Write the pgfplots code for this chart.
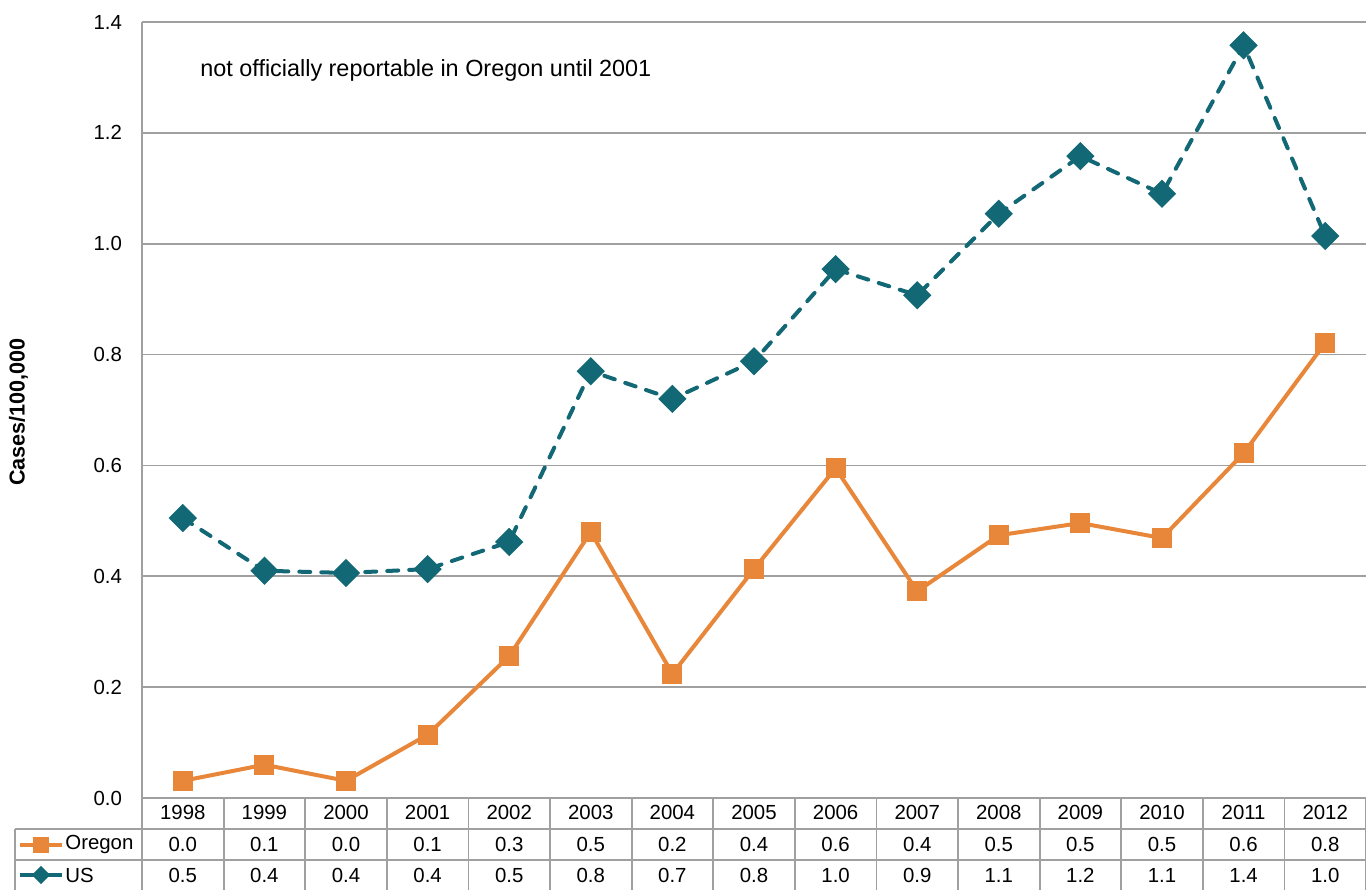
\documentclass[border=0pt]{standalone}
\usepackage{pgfplots}
\pgfplotsset{compat=1.18}
\usepackage{fontspec}
\setmainfont{Liberation Sans}
\usetikzlibrary{calc}
\definecolor{teal1}{HTML}{136876}
\definecolor{orng}{HTML}{E8873A}
\definecolor{gridg}{HTML}{A0A0A0}
\begin{document}
\begin{tikzpicture}
\begin{axis}[
  name=ax,
  scale only axis,
  width=612pt, height=388pt,
  xmin=0, xmax=15, ymin=0, ymax=1.4,
  clip=false,
  axis line style={gridg, line width=0.9pt},
  axis x line*=bottom, axis y line*=left,
  ytick={0,0.2,...,1.4},
  /pgf/number format/fixed, /pgf/number format/fixed zerofill, /pgf/number format/precision=1,
  /pgf/number format/assume math mode=true,
  ymajorgrids, grid style={gridg, line width=0.9pt},
  major tick length=0pt,
  xtick={0.5,1.5,...,14.5},
  xticklabels={1998,1999,2000,2001,2002,2003,2004,2005,2006,2007,2008,2009,2010,2011,2012},
  tick label style={font=\fontsize{10.2}{12}\selectfont},
  xticklabel style={yshift=0pt},
  yticklabel style={xshift=-6.5pt},
]
\addplot[orng, line width=2pt, mark=square*, mark size=4pt, mark options={solid}] coordinates {
(0.5,0.031) (1.5,0.060) (2.5,0.031) (3.5,0.114) (4.5,0.256) (5.5,0.480) (6.5,0.224)
(7.5,0.413) (8.5,0.595) (9.5,0.373) (10.5,0.474) (11.5,0.496) (12.5,0.469) (13.5,0.622) (14.5,0.821)};
\addplot[teal1, line width=2pt, line cap=round, dash pattern=on 5.5pt off 5.5pt, mark=square*, mark size=4pt, mark options={solid, rotate=45}] coordinates {
(0.5,0.505) (1.5,0.410) (2.5,0.406) (3.5,0.413) (4.5,0.462) (5.5,0.770) (6.5,0.720)
(7.5,0.788) (8.5,0.954) (9.5,0.907) (10.5,1.054) (11.5,1.158) (12.5,1.090) (13.5,1.358) (14.5,1.014)};
\end{axis}
\begin{scope}[shift={(ax.south west)}]
\tikzset{f/.style={font=\fontsize{10.2}{12}\selectfont}}
% top border
\draw[gridg, line width=0.9pt] (0,388pt) -- (612pt,388pt);
% table grid
\draw[gridg, line width=0.9pt] (0,0) -- (612pt,0);
\draw[gridg, line width=0.9pt] (-63.5pt,-15.5pt) -- (612pt,-15.5pt);
\draw[gridg, line width=0.9pt] (-63.5pt,-31pt) -- (612pt,-31pt);
\draw[gridg, line width=0.9pt] (-63.5pt,-15.5pt) -- (-63.5pt,-46pt);
\foreach \k in {0,...,15} {
  \draw[gridg, line width=0.9pt] (\k*40.8pt,0) -- (\k*40.8pt,-46pt);
}
% legend keys
\draw[orng, line width=2pt] (-61pt,-23.25pt) -- (-40pt,-23.25pt);
\node[fill=orng, minimum size=8pt, inner sep=0pt] at (-50.5pt,-23.25pt) {};
\node[f, anchor=west, inner sep=0pt] at (-38.5pt,-23.25pt) {Oregon};
\draw[teal1, line width=2pt] (-61pt,-38.5pt) -- (-40pt,-38.5pt);
\node[fill=teal1, minimum size=6.5pt, inner sep=0pt, rotate=45] at (-50.5pt,-38.5pt) {};
\node[f, anchor=west, inner sep=0pt] at (-38.5pt,-38.5pt) {US};
% values
\foreach \v [count=\i from 0] in {0.0,0.1,0.0,0.1,0.3,0.5,0.2,0.4,0.6,0.4,0.5,0.5,0.5,0.6,0.8} {
  \node[f] at (\i*40.8pt+20.4pt,-23.25pt) {\v};
}
\foreach \v [count=\i from 0] in {0.5,0.4,0.4,0.4,0.5,0.8,0.7,0.8,1.0,0.9,1.1,1.2,1.1,1.4,1.0} {
  \node[f] at (\i*40.8pt+20.4pt,-38.5pt) {\v};
}
\node[font=\fontsize{11.7}{14}\selectfont, anchor=west, inner sep=0pt] at (29pt,364pt) {not officially reportable in Oregon until 2001};
\node[font=\fontsize{10.8}{13}\selectfont\bfseries, rotate=90, inner sep=0pt] at (-61.75pt,193pt) {Cases/100,000};
\end{scope}
\pgfresetboundingbox
\path[use as bounding box] ($(ax.south west)+(-71pt,-46pt)$) rectangle ($(ax.north east)+(0pt,11pt)$);
\end{tikzpicture}
\end{document}
